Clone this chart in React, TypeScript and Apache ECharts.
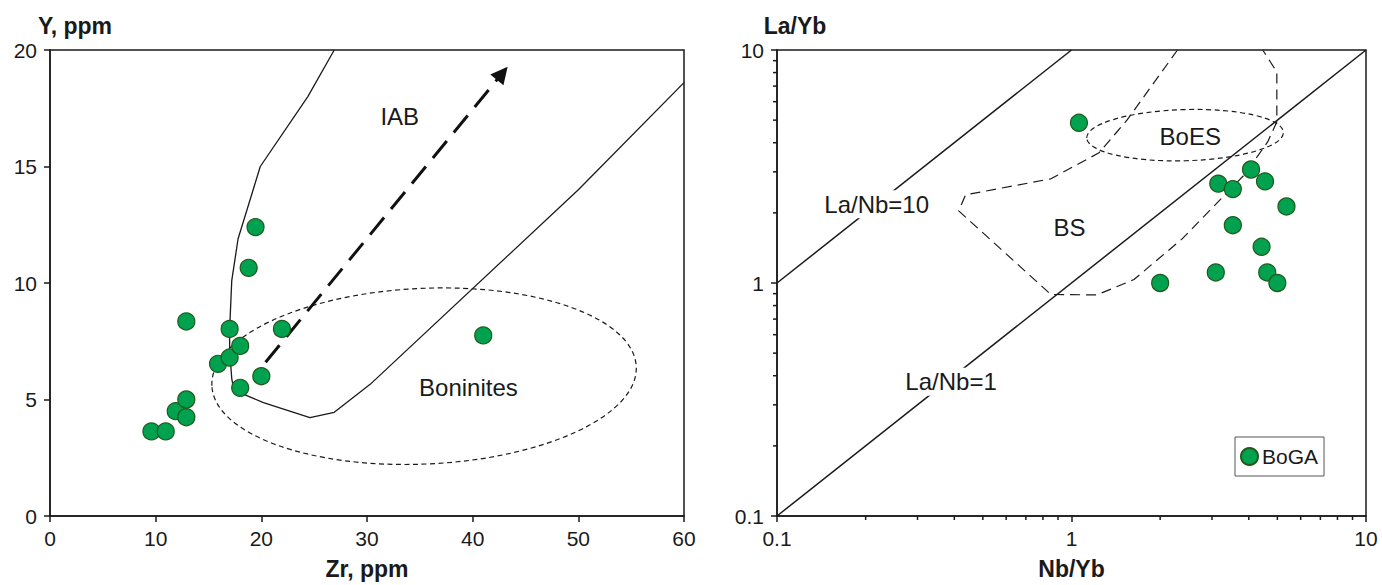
import React, { useEffect, useRef } from "react";
import * as echarts from "echarts";

// ---------- Left panel: Zr vs Y ----------
const ZR_PPM = [9.6, 10.95, 11.9, 12.9, 12.9, 12.9, 15.9, 17.0, 17.0, 18.0, 18.0, 19.45, 18.8, 20.0, 21.95, 41.0];
const Y_PPM = [3.63, 3.63, 4.5, 4.24, 5.0, 8.35, 6.53, 6.8, 8.03, 7.3, 5.5, 12.4, 10.65, 6.0, 8.03, 7.75];

// IAB field boundary (Zr, Y)
const IAB_BOUNDARY: [number, number][] = [
  [26.9, 20], [24.4, 18.0], [19.9, 15.0], [17.8, 11.9], [17.2, 10.1], [17.0, 8.0],
  [17.0, 7.1], [17.2, 5.9], [17.4, 5.4], [20.2, 4.87], [24.6, 4.22], [26.9, 4.45],
  [30.3, 5.65], [50, 14.0], [60, 18.6],
];
// Trend arrow (start, end)
const ARROW: [number, number][] = [[20.4, 6.6], [42.8, 19.0]];
// Boninites ellipse: centerX, centerY, edgeX (semi-major end), edgeY (semi-minor end), tilt in degrees
const BONINITE_ELLIPSE = [35.4, 6.0, 55.5, 9.77, 2.6];
// Text labels: text, x, y, white background
const LEFT_LABELS: [string, number, number, number][] = [
  ["IAB", 33.1, 17.13, 0],
  ["Boninites", 39.6, 5.5, 0],
];
const LEFT_X_TICKS = { min: 0, max: 60, interval: 10 };
const LEFT_Y_TICKS = { min: 0, max: 20, interval: 5 };

// ---------- Right panel: Nb/Yb vs La/Yb ----------
const NB_YB = [1.06, 2.0, 3.09, 3.15, 3.53, 4.07, 4.54, 5.37, 3.53, 4.42, 4.62, 5.0];
const LA_YB = [4.87, 1.0, 1.11, 2.67, 2.53, 3.07, 2.73, 2.13, 1.77, 1.43, 1.11, 1.0];

const LA_NB_10: [number, number][] = [[0.1, 1], [1, 10]];
const LA_NB_1: [number, number][] = [[0.1, 0.1], [10, 10]];
// BS field (dashed, open at top)
const BS_FIELD: [number, number][] = [
  [2.29, 10], [1.545, 5.01], [1.24, 3.62], [0.851, 2.8], [0.437, 2.39], [0.414, 2.04],
  [0.851, 0.893], [1.22, 0.889], [1.63, 1.035], [2.38, 1.55], [3.87, 2.92],
  [4.64, 4.04], [4.98, 4.92], [4.98, 8.05], [4.46, 10],
];
const BOES_ELLIPSE = [2.43, 4.31, 5.24, 5.55, 1.6];
const RIGHT_LABELS: [string, number, number, number][] = [
  ["La/Nb=10", 0.218, 2.18, 1],
  ["La/Nb=1", 0.39, 0.377, 1],
  ["BS", 0.984, 1.735, 0],
  ["BoES", 2.53, 4.24, 0],
];
const LOG_MINOR_TICKS = [0.2, 0.3, 0.4, 0.5, 0.6, 0.7, 0.8, 0.9, 2, 3, 4, 5, 6, 7, 8, 9];
const LOG_RANGE = { min: 0.1, max: 10 };

const FONT = '"Liberation Sans", Arial, Helvetica, sans-serif';
const INK = "#1a1a1a";
const GREEN = "#00a14f";
const GREEN_EDGE = "#1f5a1a";

function ellipseRender(def: number[]) {
  return (params: any, api: any) => {
    const c = api.coord([def[0], def[1]]);
    const ex = api.coord([def[2], def[1]]);
    const ey = api.coord([def[0], def[3]]);
    const rx = Math.abs(ex[0] - c[0]);
    const ry = Math.abs(c[1] - ey[1]);
    return {
      type: "ellipse",
      x: c[0],
      y: c[1],
      rotation: (def[4] * Math.PI) / 180,
      shape: { cx: 0, cy: 0, rx, ry },
      style: { fill: "none", stroke: INK, lineWidth: 1.2, lineDash: [5, 3.5] },
    };
  };
}

function labelRender(labels: [string, number, number, number][]) {
  return (params: any, api: any) => {
    const l = labels[params.dataIndex];
    const p = api.coord([l[1], l[2]]);
    return {
      type: "text",
      x: p[0],
      y: p[1],
      style: {
        text: l[0],
        fill: INK,
        fontSize: 24,
        fontFamily: FONT,
        align: "center",
        verticalAlign: "middle",
        backgroundColor: l[3] ? "#ffffff" : "transparent",
        padding: l[3] ? [2, 4] : 0,
      },
    };
  };
}

const axisCommon = {
  axisLine: { show: true, onZero: false, lineStyle: { color: INK, width: 1.5 } },
  axisTick: { show: true, length: 6, inside: false, lineStyle: { color: INK, width: 1.5 } },
  splitLine: { show: false },
  nameTextStyle: { fontWeight: "bold", fontSize: 23, color: INK, fontFamily: FONT },
};

export default function App() {
  const ref = useRef<HTMLDivElement>(null);
  useEffect(() => {
    if (!ref.current) return;
    const chart = echarts.init(ref.current, null, { renderer: "svg" });
    const leftPts = ZR_PPM.map((x, i) => [x, Y_PPM[i]]);
    const rightPts = NB_YB.map((x, i) => [x, LA_YB[i]]);

    chart.setOption({
      animation: false,
      backgroundColor: "#ffffff",
      textStyle: { fontFamily: FONT },
      grid: [
        { left: 50, top: 50, width: 634, height: 468, show: true, borderColor: INK, borderWidth: 1.5, backgroundColor: "transparent" },
        { left: 777, top: 50, width: 589, height: 468, show: true, borderColor: INK, borderWidth: 1.5, backgroundColor: "transparent" },
      ],
      legend: {
        data: ["BoGA"],
        left: 1235,
        top: 437,
        orient: "vertical",
        selectedMode: false,
        icon: "circle",
        itemWidth: 17,
        itemHeight: 17,
        itemGap: 4,
        padding: [9, 6, 9, 5],
        borderColor: "#555",
        borderWidth: 1,
        backgroundColor: "#fff",
        textStyle: { fontSize: 21, color: INK, fontFamily: FONT, padding: [0, 0, 0, -1] },
      },
      xAxis: [
        {
          ...axisCommon,
          gridIndex: 0,
          type: "value",
          ...LEFT_X_TICKS,
          axisLabel: { fontSize: 21, color: INK, margin: 12, fontFamily: FONT },
          name: "Zr, ppm",
          nameLocation: "middle",
          nameGap: 41,
        },
        {
          ...axisCommon,
          gridIndex: 1,
          type: "log",
          logBase: 10,
          ...LOG_RANGE,
          axisLabel: { fontSize: 21, color: INK, margin: 12, fontFamily: FONT },
          name: "Nb/Yb",
          nameLocation: "middle",
          nameGap: 41,
        },
      ],
      yAxis: [
        {
          ...axisCommon,
          gridIndex: 0,
          type: "value",
          ...LEFT_Y_TICKS,
          axisLabel: { fontSize: 21, color: INK, margin: 13, fontFamily: FONT },
          name: "Y, ppm",
          nameLocation: "end",
          nameGap: 13,
          nameTextStyle: { ...axisCommon.nameTextStyle, align: "center", padding: [0, 0, 0, 50] },
        },
        {
          ...axisCommon,
          gridIndex: 1,
          type: "log",
          logBase: 10,
          ...LOG_RANGE,
          axisLabel: { fontSize: 21, color: INK, margin: 13, fontFamily: FONT },
          name: "La/Yb",
          nameLocation: "end",
          nameGap: 13,
          nameTextStyle: { ...axisCommon.nameTextStyle, align: "center", padding: [0, 0, 0, 36] },
        },
      ],
      series: [
        // ----- left -----
        {
          type: "line",
          xAxisIndex: 0,
          yAxisIndex: 0,
          data: IAB_BOUNDARY,
          showSymbol: false,
          symbol: "none",
          lineStyle: { color: INK, width: 1.3 },
          z: 2,
          silent: true,
        },
        {
          type: "custom",
          xAxisIndex: 0,
          yAxisIndex: 0,
          data: [[BONINITE_ELLIPSE[0], BONINITE_ELLIPSE[1]]],
          renderItem: ellipseRender(BONINITE_ELLIPSE),
          clip: false,
          z: 2,
          silent: true,
        },
        {
          type: "lines",
          coordinateSystem: "cartesian2d",
          xAxisIndex: 0,
          yAxisIndex: 0,
          data: [{ coords: ARROW }],
          symbol: ["none", "triangle"],
          symbolSize: [15, 17],
          lineStyle: { color: "#111", width: 3, type: [22, 11], opacity: 1 },
          itemStyle: { color: "#111" },
          z: 3,
          silent: true,
        },
        {
          type: "custom",
          xAxisIndex: 0,
          yAxisIndex: 0,
          data: LEFT_LABELS.map((l) => [l[1], l[2]]),
          renderItem: labelRender(LEFT_LABELS),
          clip: false,
          z: 4,
          silent: true,
        },
        {
          name: "BoGA",
          type: "scatter",
          xAxisIndex: 0,
          yAxisIndex: 0,
          data: leftPts,
          symbol: "circle",
          symbolSize: 17,
          itemStyle: { color: GREEN, borderColor: GREEN_EDGE, borderWidth: 1.2, opacity: 1 },
          z: 5,
        },
        // ----- right -----
        {
          type: "line",
          xAxisIndex: 1,
          yAxisIndex: 1,
          data: LA_NB_10,
          symbol: "none",
          lineStyle: { color: INK, width: 1.5 },
          z: 2,
          silent: true,
        },
        {
          type: "line",
          xAxisIndex: 1,
          yAxisIndex: 1,
          data: LA_NB_1,
          symbol: "none",
          lineStyle: { color: INK, width: 1.5 },
          z: 2,
          silent: true,
        },
        {
          type: "line",
          xAxisIndex: 1,
          yAxisIndex: 1,
          data: BS_FIELD,
          symbol: "none",
          lineStyle: { color: INK, width: 1.2, type: [10, 6] },
          z: 2,
          silent: true,
        },
        {
          type: "custom",
          xAxisIndex: 1,
          yAxisIndex: 1,
          data: [[BOES_ELLIPSE[0], BOES_ELLIPSE[1]]],
          renderItem: ellipseRender(BOES_ELLIPSE),
          clip: false,
          z: 2,
          silent: true,
        },
        {
          type: "custom",
          xAxisIndex: 1,
          yAxisIndex: 1,
          data: LOG_MINOR_TICKS.map((v) => [v, v]),
          renderItem: (params: any, api: any) => {
            const v = LOG_MINOR_TICKS[params.dataIndex];
            const px = api.coord([v, LOG_RANGE.min]);
            const py = api.coord([LOG_RANGE.min, v]);
            return {
              type: "group",
              children: [
                { type: "line", shape: { x1: px[0], y1: px[1], x2: px[0], y2: px[1] + 4 }, style: { stroke: INK, lineWidth: 1.5 } },
                { type: "line", shape: { x1: py[0], y1: py[1], x2: py[0] - 4, y2: py[1] }, style: { stroke: INK, lineWidth: 1.5 } },
              ],
            };
          },
          clip: false,
          z: 2,
          silent: true,
        },
        {
          type: "custom",
          xAxisIndex: 1,
          yAxisIndex: 1,
          data: RIGHT_LABELS.map((l) => [l[1], l[2]]),
          renderItem: labelRender(RIGHT_LABELS),
          clip: false,
          z: 4,
          silent: true,
        },
        {
          name: "BoGA",
          type: "scatter",
          xAxisIndex: 1,
          yAxisIndex: 1,
          data: rightPts,
          symbol: "circle",
          symbolSize: 17,
          itemStyle: { color: GREEN, borderColor: GREEN_EDGE, borderWidth: 1.2, opacity: 1 },
          z: 5,
        },
      ],
    });
    return () => chart.dispose();
  }, []);

  return (
    <div
      ref={ref}
      style={{ position: "fixed", left: 0, top: 0, width: 1382, height: 585, background: "#fff" }}
    />
  );
}
